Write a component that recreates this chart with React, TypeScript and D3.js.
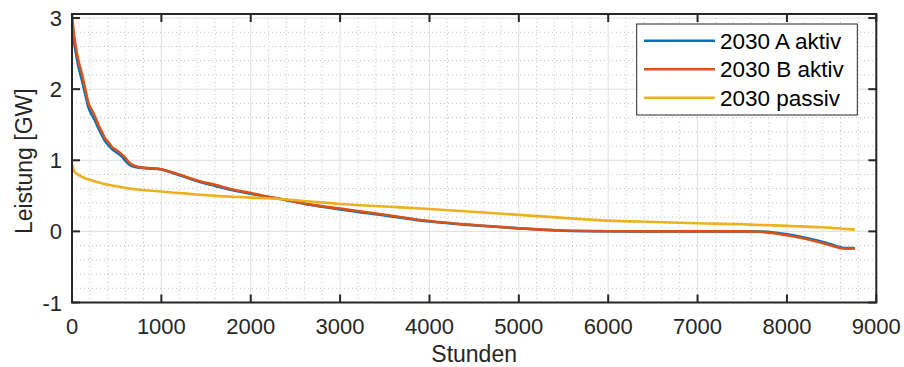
import React from "react";
import * as d3 from "d3";

const hours = [0, 15, 35, 70, 110, 150, 185, 225, 260, 295, 335, 370, 410, 445, 500, 560, 600, 630, 670, 705, 760, 855, 1000, 1120, 1250, 1430, 1600, 1800, 2000, 2180, 2400, 2660, 3000, 3500, 4000, 4570, 5000, 5500, 6000, 6500, 7000, 7500, 7700, 7850, 8000, 8150, 8340, 8500, 8600, 8650, 8760];

const seriesA = [2.9, 2.75, 2.57, 2.33, 2.13, 1.92, 1.74, 1.63, 1.55, 1.45, 1.35, 1.27, 1.21, 1.16, 1.11, 1.05, 0.99, 0.95, 0.92, 0.905, 0.895, 0.885, 0.87, 0.825, 0.77, 0.695, 0.64, 0.578, 0.53, 0.485, 0.44, 0.375, 0.31, 0.225, 0.138, 0.08, 0.043, 0.01, 0.002, 0, 0, 0, -0.002, -0.015, -0.04, -0.075, -0.13, -0.185, -0.225, -0.235, -0.235];

const seriesB = [3.05, 2.85, 2.65, 2.41, 2.22, 1.99, 1.8, 1.7, 1.61, 1.5, 1.4, 1.31, 1.25, 1.19, 1.14, 1.08, 1.03, 0.98, 0.94, 0.92, 0.9, 0.89, 0.875, 0.83, 0.78, 0.705, 0.655, 0.588, 0.54, 0.49, 0.443, 0.38, 0.32, 0.235, 0.145, 0.082, 0.045, 0.012, 0.003, 0, 0, 0, -0.005, -0.025, -0.055, -0.09, -0.145, -0.2, -0.236, -0.24, -0.24];

const seriesPassiv = [0.95, 0.87, 0.83, 0.795, 0.77, 0.745, 0.73, 0.715, 0.7, 0.69, 0.675, 0.665, 0.654, 0.645, 0.635, 0.62, 0.61, 0.605, 0.598, 0.593, 0.585, 0.574, 0.56, 0.546, 0.535, 0.515, 0.5, 0.488, 0.475, 0.465, 0.448, 0.42, 0.385, 0.35, 0.315, 0.27, 0.232, 0.19, 0.152, 0.133, 0.115, 0.1, 0.09, 0.084, 0.077, 0.07, 0.06, 0.05, 0.04, 0.035, 0.025];

const seriesNames = ["2030 A aktiv", "2030 B aktiv", "2030 passiv"];
const seriesColors = ["#0072BD", "#D95319", "#EDB120"];

const xTicks = [0, 1000, 2000, 3000, 4000, 5000, 6000, 7000, 8000, 9000];
const yTicks = [-1, 0, 1, 2, 3];
const xLabel = "Stunden";
const yLabel = "Leistung [GW]";

export default function App() {
  const W = 904, H = 367;
  const left = 72, right = 876.3, top = 14, bottom = 302.5;
  const x = d3.scaleLinear().domain([0, 9000]).range([left, right]);
  const y = d3.scaleLinear().domain([-1, 3.057]).range([bottom, top]);
  const line = d3.line<[number, number]>().x(d => x(d[0])).y(d => y(d[1])).curve(d3.curveMonotoneX);
  const allSeries = [seriesA, seriesB, seriesPassiv];

  const xMinor = d3.range(0, 9001, 200).filter(v => v % 1000 !== 0);
  const yMinor = d3.range(-1, 3.06, 0.2).filter(v => Math.abs(v - Math.round(v)) > 1e-6);
  const axisColor = "#262626";
  const font = "'Liberation Sans', Arial, sans-serif";
  const tl = 8;

  return (
    <svg width={W} height={H} style={{ position: "absolute", left: 0, top: 0, background: "#fff" }} fontFamily={font}>
      <rect x={0} y={0} width={W} height={H} fill="#fff" />
      {xMinor.map(v => (
        <line key={"xm" + v} x1={x(v)} x2={x(v)} y1={top} y2={bottom} stroke="#c2c2c2" strokeWidth={1} strokeDasharray="1,3" />
      ))}
      {yMinor.map(v => (
        <line key={"ym" + v} x1={left} x2={right} y1={y(v)} y2={y(v)} stroke="#c2c2c2" strokeWidth={1} strokeDasharray="1,3" />
      ))}
      {xTicks.map(v => (
        <line key={"xg" + v} x1={x(v)} x2={x(v)} y1={top} y2={bottom} stroke="#dfdfdf" strokeWidth={1} />
      ))}
      {yTicks.map(v => (
        <line key={"yg" + v} x1={left} x2={right} y1={y(v)} y2={y(v)} stroke="#dfdfdf" strokeWidth={1} />
      ))}
      {allSeries.map((s, i) => (
        <path key={"s" + i} d={line(hours.map((h, j) => [h, s[j]] as [number, number])) || ""} fill="none" stroke={seriesColors[i]} strokeWidth={2.6} strokeLinejoin="round" />
      ))}
      <rect x={left} y={top} width={right - left} height={bottom - top} fill="none" stroke={axisColor} strokeWidth={2} />
      {xTicks.map(v => (
        <g key={"xt" + v}>
          <line x1={x(v)} x2={x(v)} y1={bottom} y2={bottom - tl} stroke={axisColor} strokeWidth={2} />
          <line x1={x(v)} x2={x(v)} y1={top} y2={top + tl} stroke={axisColor} strokeWidth={2} />
          <text x={x(v)} y={334} textAnchor="middle" fontSize={22} fill={axisColor}>{v}</text>
        </g>
      ))}
      {yTicks.map(v => (
        <g key={"yt" + v}>
          <line x1={left} x2={left + tl} y1={y(v)} y2={y(v)} stroke={axisColor} strokeWidth={2} />
          <line x1={right} x2={right - tl} y1={y(v)} y2={y(v)} stroke={axisColor} strokeWidth={2} />
          <text x={62} y={y(v) + 8} textAnchor="end" fontSize={22} fill={axisColor}>{v}</text>
        </g>
      ))}
      <text x={(left + right) / 2} y={362} textAnchor="middle" fontSize={23} fill={axisColor}>{xLabel}</text>
      <text transform={`translate(32, ${(top + bottom) / 2 + 3}) rotate(-90)`} textAnchor="middle" fontSize={23} fill={axisColor}>{yLabel}</text>
      <rect x={636.7} y={24} width={220.6} height={91} fill="#fff" stroke="#262626" strokeWidth={1} />
      {seriesNames.map((n, i) => {
        const ly = 40.7 + i * 28.5;
        return (
          <g key={"lg" + i}>
            <line x1={644} x2={715} y1={ly} y2={ly} stroke={seriesColors[i]} strokeWidth={2.6} />
            <text x={720} y={ly + 8} fontSize={22.5} fill="#000">{n}</text>
          </g>
        );
      })}
    </svg>
  );
}
